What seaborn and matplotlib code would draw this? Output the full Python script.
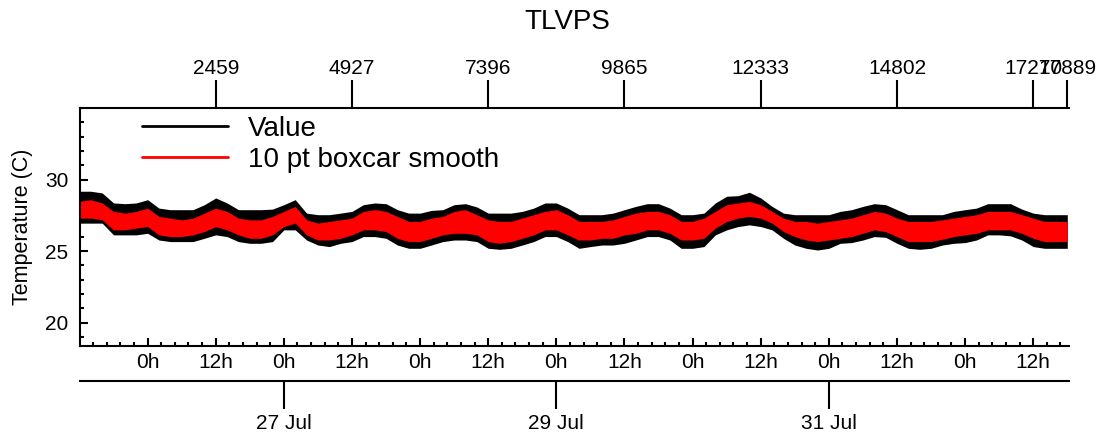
import matplotlib
matplotlib.use("Agg")
import numpy as np
import pandas as pd
import matplotlib.pyplot as plt
import matplotlib.dates as mdates
from matplotlib.ticker import MultipleLocator, FuncFormatter, FixedLocator, NullLocator
from matplotlib.lines import Line2D
import seaborn as sns

# ---------------- data ----------------
TITLE = "TLVPS"
Y_LABEL = "Temperature (C)"
SERIES = ["Value", "10 pt boxcar smooth"]
COLORS = {"Value": "black", "10 pt boxcar smooth": "red"}

START = "2019-07-25 12:00"      # first reading time
STEP = "2h"                      # spacing of the readings below
X_START = "2019-07-25 12:05:30"  # left edge of the time axis
X_END = "2019-08-01 18:18"       # right edge of the time axis

# envelope (max / min) of the raw series, every 2 hours
value_hi = [29.18, 29.18, 29.06, 28.36, 28.31, 28.36, 28.59, 28.00, 27.89, 27.89, 27.89,
            28.24, 28.71, 28.36, 27.89, 27.89, 27.89, 27.93, 28.24, 28.59, 27.65, 27.54,
            27.54, 27.65, 27.77, 28.24, 28.36, 28.31, 27.89, 27.65, 27.65, 27.84, 27.89,
            28.24, 28.31, 28.08, 27.65, 27.65, 27.65, 27.77, 28.00, 28.36, 28.36, 28.00,
            27.54, 27.54, 27.54, 27.65, 27.89, 28.12, 28.31, 28.31, 28.00, 27.54, 27.54,
            27.65, 28.36, 28.83, 28.87, 29.11, 28.71, 28.12, 27.65, 27.54, 27.54, 27.54,
            27.54, 27.77, 27.89, 28.12, 28.31, 28.24, 27.89, 27.54, 27.54, 27.54, 27.54,
            27.77, 27.89, 28.00, 28.31, 28.31, 28.31, 27.93, 27.65, 27.54, 27.54, 27.54]
value_lo = [26.95, 26.95, 26.95, 26.13, 26.13, 26.13, 26.24, 25.77, 25.66, 25.66, 25.66,
            25.89, 26.13, 26.01, 25.66, 25.54, 25.54, 25.66, 26.48, 26.48, 25.77, 25.42,
            25.31, 25.54, 25.66, 26.01, 26.01, 25.89, 25.42, 25.19, 25.19, 25.42, 25.66,
            25.77, 25.77, 25.66, 25.19, 25.12, 25.19, 25.42, 25.66, 26.01, 26.01, 25.66,
            25.19, 25.31, 25.42, 25.42, 25.54, 25.77, 26.01, 26.01, 25.77, 25.19, 25.19,
            25.31, 26.13, 26.48, 26.71, 26.83, 26.71, 26.48, 25.89, 25.42, 25.19, 25.07,
            25.19, 25.54, 25.59, 25.77, 26.01, 25.96, 25.54, 25.19, 25.12, 25.19, 25.42,
            25.54, 25.59, 25.77, 26.13, 26.13, 26.06, 25.77, 25.31, 25.19, 25.19, 25.19]
# envelope of the 10 pt boxcar smooth, every 2 hours
smooth_hi = [28.47, 28.59, 28.36, 27.77, 27.65, 27.77, 28.00, 27.42, 27.30, 27.18, 27.30,
             27.65, 28.00, 27.77, 27.30, 27.18, 27.18, 27.42, 27.77, 28.12, 27.18, 26.95,
             27.07, 27.18, 27.30, 27.77, 27.89, 27.77, 27.42, 27.07, 27.07, 27.30, 27.42,
             27.77, 27.89, 27.54, 27.18, 27.07, 27.07, 27.30, 27.54, 27.77, 27.89, 27.54,
             27.07, 27.07, 27.07, 27.18, 27.42, 27.65, 27.77, 27.77, 27.54, 27.07, 27.07,
             27.30, 27.77, 28.24, 28.36, 28.47, 28.24, 27.77, 27.30, 27.07, 27.07, 26.95,
             27.07, 27.18, 27.30, 27.54, 27.77, 27.65, 27.30, 27.07, 27.07, 27.07, 27.18,
             27.30, 27.42, 27.54, 27.77, 27.77, 27.77, 27.54, 27.30, 27.07, 27.07, 27.07]
smooth_lo = [27.30, 27.30, 27.18, 26.48, 26.48, 26.60, 26.71, 26.13, 26.01, 26.01, 26.13,
             26.36, 26.71, 26.48, 26.13, 25.89, 25.89, 26.13, 26.71, 26.95, 26.13, 25.77,
             25.77, 25.89, 26.13, 26.48, 26.48, 26.36, 25.89, 25.66, 25.66, 25.89, 26.13,
             26.24, 26.24, 26.13, 25.66, 25.54, 25.66, 25.89, 26.13, 26.48, 26.48, 26.13,
             25.77, 25.77, 25.89, 25.89, 26.13, 26.24, 26.48, 26.48, 26.24, 25.77, 25.77,
             25.89, 26.60, 27.07, 27.30, 27.42, 27.30, 26.95, 26.36, 26.01, 25.77, 25.66,
             25.77, 25.89, 26.01, 26.24, 26.48, 26.36, 26.01, 25.66, 25.66, 25.66, 25.82,
             26.01, 26.13, 26.24, 26.48, 26.48, 26.48, 26.24, 25.89, 25.66, 25.66, 25.66]

# top axis: sample index
SAMPLE_TICKS = [2459, 4927, 7396, 9865, 12333, 14802, 17270, 17889]
SAMPLE_T0 = "2019-07-25 12:05:30"
SAMPLE_INTERVAL_S = 35.0

DATE_TICKS = ["2019-07-27", "2019-07-29", "2019-07-31"]
Y_TICKS = [20, 25, 30]
Y_LIM = (18.36, 35.0)

# ---------------- build long table ----------------
times = pd.date_range(START, periods=len(value_hi), freq=STEP)
rows = []
for name, hi, lo in [(SERIES[0], value_hi, value_lo), (SERIES[1], smooth_hi, smooth_lo)]:
    for t, h, l in zip(times, hi, lo):
        rows.append((t, name, h))
        rows.append((t, name, l))
df = pd.DataFrame(rows, columns=["time", "series", "temp"])

# ---------------- style ----------------
sns.set_theme(style="ticks")
plt.rcParams["font.family"] = ["Liberation Sans", "DejaVu Sans"]
plt.rcParams.update({
    "axes.linewidth": 1.5, "text.color": "black", "axes.labelcolor": "black",
    "xtick.color": "black", "ytick.color": "black", "axes.edgecolor": "black",
})

W, H = 1107, 444
fig = plt.figure(figsize=(W / 100, H / 100), dpi=100)
L, R, T, B = 80, 1069, 108, 346
ax = fig.add_axes([L / W, 1 - B / H, (R - L) / W, (B - T) / H])

sns.lineplot(data=df, x="time", y="temp", hue="series", hue_order=SERIES,
             palette=COLORS, estimator="mean", errorbar=("pi", 100),
             err_kws={"alpha": 1, "linewidth": 0}, linewidth=0,
             legend=False, ax=ax)

ax.set_xlim(mdates.date2num(pd.Timestamp(X_START)), mdates.date2num(pd.Timestamp(X_END)))
ax.set_ylim(*Y_LIM)
ax.set_xlabel("")
ax.set_ylabel(Y_LABEL, fontsize=15.5)
ax.yaxis.set_label_coords(-0.0475, 0.5)

for s in ["right", "top"]:
    ax.spines[s].set_visible(False)

# bottom time-of-day axis
ax.xaxis.set_major_locator(MultipleLocator(0.5))
ax.xaxis.set_minor_locator(MultipleLocator(0.1))
ax.xaxis.set_major_formatter(FuncFormatter(lambda x, _: f"{mdates.num2date(x + 1e-6).hour}h"))
ax.yaxis.set_major_locator(FixedLocator(Y_TICKS))
ax.yaxis.set_minor_locator(MultipleLocator(1))
ax.tick_params(axis="both", which="major", direction="in", length=5.8, width=1.5,
               labelsize=15, color="black", labelcolor="black")
ax.tick_params(axis="both", which="minor", direction="in", length=3, width=1.5, color="black")
ax.tick_params(axis="x", which="both", bottom=True, top=False, pad=5)
ax.tick_params(axis="y", which="both", left=True, right=False, pad=8.5)

# top sample index axis
t0 = mdates.date2num(pd.Timestamp(SAMPLE_T0))
dt_days = SAMPLE_INTERVAL_S / 86400.0
top = ax.secondary_xaxis("top", functions=(lambda d: (d - t0) / dt_days,
                                             lambda i: t0 + i * dt_days))
top.xaxis.set_major_locator(FixedLocator(SAMPLE_TICKS))
top.xaxis.set_minor_locator(NullLocator())
top.xaxis.set_major_formatter(FuncFormatter(lambda v, _: f"{int(round(v))}"))
top.tick_params(axis="x", which="major", direction="out", length=20, width=1.5,
                labelsize=15, pad=1.5, color="black", labelcolor="black")
top.spines["top"].set_linewidth(1.5)
top.spines["top"].set_color("black")

# date axis below
date_ax = ax.secondary_xaxis(-(381 - B) / (B - T))
date_ax.xaxis.set_major_locator(FixedLocator(mdates.date2num(pd.to_datetime(DATE_TICKS))))
date_ax.xaxis.set_minor_locator(NullLocator())
date_ax.xaxis.set_major_formatter(FuncFormatter(
    lambda x, _: f"{mdates.num2date(x).day} {mdates.num2date(x).strftime('%b')}"))
date_ax.tick_params(axis="x", which="major", direction="out", length=20, width=1.5,
                    labelsize=15, pad=4, color="black", labelcolor="black")
date_ax.spines["bottom"].set_linewidth(1.5)
date_ax.spines["bottom"].set_color("black")

# legend
handles = [Line2D([], [], color=COLORS[s], lw=2.0) for s in SERIES]
ax.legend(handles, SERIES, loc="upper left",
          bbox_to_anchor=((142 - L) / (R - L), 1 - (116 - T) / (B - T)),
          frameon=False, fontsize=20, handlelength=3.1, handletextpad=0.7,
          labelspacing=0.18, borderpad=0, borderaxespad=0, labelcolor="black")

fig.text(567 / W, 1 - 22 / H, TITLE, ha="center", va="center", fontsize=20, color="black")

fig.savefig("out.png", dpi=100)
